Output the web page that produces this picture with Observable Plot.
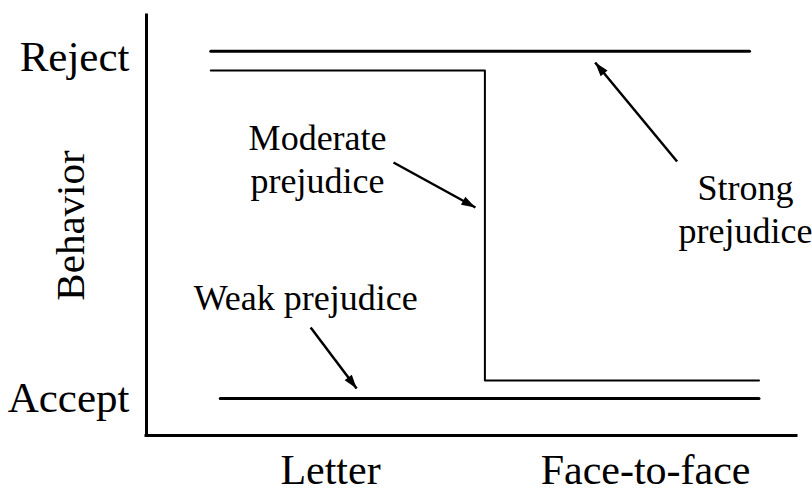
<!DOCTYPE html>
<html>
<head>
<meta charset="utf-8">
<script src="https://cdn.jsdelivr.net/npm/d3@7"></script>
<script src="https://cdn.jsdelivr.net/npm/@observablehq/plot@0.6"></script>
<style>
  html, body { margin: 0; padding: 0; background: #fff; }
  svg { display: block; }
</style>
</head>
<body>
<div id="chart"></div>
<script>
// Categories / tick labels
const conditions = ["Letter", "Face-to-face"];
const conditionPos = [0, 1];
const behaviorLabels = ["Accept", "Reject"];
const behaviorPos = [0, 10];
const yTitle = "Behavior";

// Series (x in condition units, y in behavior units)
const strongX = [-0.38, 1.33];
const strongY = [10.18, 10.18];
const moderateX = [-0.38, 0.49, 1.36];
const moderateY = [9.62, 0.53, 0.53];
const weakX = [-0.35, 1.36];
const weakY = [0, 0];

// Annotations
const noteText = ["Strong\nprejudice", "Moderate\nprejudice", "Weak prejudice"];
const noteX = [1.317, -0.041, -0.079];
const noteY = [5.60, 7.07, 3.0];
const arrowFromX = [1.10, 0.20, -0.063];
const arrowFromY = [6.95, 6.92, 2.08];
const arrowToX = [0.84, 0.46, 0.083];
const arrowToY = [9.85, 5.60, 0.29];

const xDomain = [-0.584, 1.479];
const yDomain = [-1.085, 11.23];

const toPts = (xs, ys) => xs.map((x, i) => ({x, y: ys[i]}));
const notes = noteText.map((t, i) => ({t, x: noteX[i], y: noteY[i]}));
const arrows = arrowFromX.map((x1, i) => ({x1, y1: arrowFromY[i], x2: arrowToX[i], y2: arrowToY[i]}));

function headMarker(color) {
  const ns = "http://www.w3.org/2000/svg";
  const m = document.createElementNS(ns, "marker");
  m.setAttribute("viewBox", "-14 -5 14 10");
  m.setAttribute("markerUnits", "userSpaceOnUse");
  m.setAttribute("markerWidth", 14);
  m.setAttribute("markerHeight", 10);
  m.setAttribute("refX", 0);
  m.setAttribute("refY", 0);
  m.setAttribute("orient", "auto");
  m.setAttribute("overflow", "visible");
  const p = document.createElementNS(ns, "path");
  p.setAttribute("d", "M-14,-4.5L0,0L-14,4.5Z");
  p.setAttribute("fill", color);
  p.setAttribute("stroke", "none");
  m.appendChild(p);
  return m;
}

const serif = "'Liberation Serif', 'Times New Roman', Times, serif";

const chart = Plot.plot({
  width: 812,
  height: 494,
  marginLeft: 146,
  marginRight: 16,
  marginTop: 15,
  marginBottom: 59,
  style: {fontFamily: serif, color: "black", background: "white", overflow: "visible"},
  x: {domain: xDomain, label: null},
  y: {domain: yDomain, label: null},
  marks: [
    Plot.axisX(conditionPos, {
      tickSize: 0, tickPadding: 19, fontSize: 42, label: null,
      tickFormat: d => conditions[conditionPos.indexOf(d)]
    }),
    Plot.axisY(behaviorPos, {
      tickSize: 0, tickPadding: 17, fontSize: 43, label: null,
      tickFormat: d => behaviorLabels[behaviorPos.indexOf(d)]
    }),
    Plot.text([yTitle], {frameAnchor: "left", textAnchor: "middle", dx: -76, rotate: -90, fontSize: 41, fill: "black"}),
    Plot.ruleX([xDomain[0]], {strokeWidth: 3, stroke: "black", strokeLinecap: "square"}),
    Plot.ruleY([yDomain[0]], {strokeWidth: 3, stroke: "black", strokeLinecap: "square"}),
    Plot.line(toPts(strongX, strongY), {x: "x", y: "y", strokeWidth: 3, stroke: "black"}),
    Plot.line(toPts(moderateX, moderateY), {x: "x", y: "y", strokeWidth: 2, stroke: "black", curve: "step-after"}),
    Plot.line(toPts(weakX, weakY), {x: "x", y: "y", strokeWidth: 3, stroke: "black"}),
    Plot.link(arrows, {x1: "x1", y1: "y1", x2: "x2", y2: "y2", strokeWidth: 2.5, stroke: "black", markerEnd: headMarker}),
    Plot.text(notes, {x: "x", y: "y", text: "t", fontSize: 36, lineHeight: 1.2, fill: "black"})
  ]
});

document.getElementById("chart").appendChild(chart);
</script>
</body>
</html>
